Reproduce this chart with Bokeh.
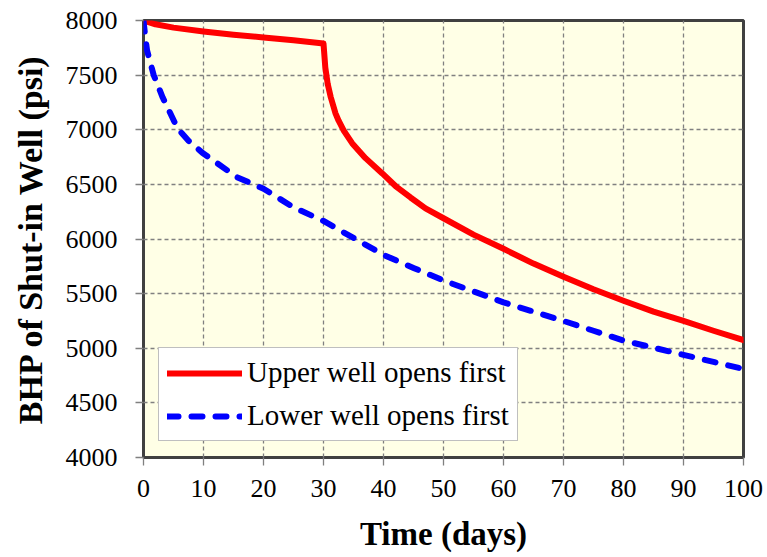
from bokeh.plotting import figure
from bokeh.models import ColumnDataSource, Legend, LegendItem, FixedTicker
from bokeh.embed import file_html
from bokeh.resources import INLINE

# Data
upper_t = [0, 2, 5, 10, 15, 20, 25, 30, 30.3, 30.7, 31.2, 32, 32.5, 33.4, 34.8, 37,
           39.8, 42, 44.5, 47, 50, 55, 60, 65, 70, 75, 80, 85, 90, 95, 100]
upper_p = [8000, 7965, 7935, 7900, 7870, 7845, 7820, 7790, 7570, 7420, 7300, 7150, 7085,
           6990, 6875, 6740, 6600, 6485, 6380, 6280, 6190, 6040, 5910, 5775, 5655, 5540,
           5435, 5335, 5250, 5160, 5075]

lower_t = [0, 0.3, 0.6, 1.7, 3.2, 5.7, 7.5, 9.8, 15.6, 20, 25, 30, 35, 40, 45, 50, 55,
           60, 65, 70, 75, 80, 85, 90, 95, 100]
lower_p = [8000, 7850, 7725, 7500, 7295, 7010, 6900, 6790, 6565, 6460, 6290, 6165, 6010,
           5855, 5735, 5620, 5520, 5420, 5335, 5250, 5160, 5070, 5005, 4940, 4875, 4810]

x_ticks = [0, 10, 20, 30, 40, 50, 60, 70, 80, 90, 100]
y_ticks = [4000, 4500, 5000, 5500, 6000, 6500, 7000, 7500, 8000]

series_names = ["Upper well opens first", "Lower well opens first"]

FONT = "Liberation Serif"

p = figure(width=767, height=557, x_range=(0, 100), y_range=(4000, 8000),
           output_backend="svg", toolbar_location=None,
           min_border_left=143, min_border_right=24, min_border_top=20,
           min_border_bottom=100)

p.background_fill_color = "#FFFFE6"
p.border_fill_color = "white"
p.outline_line_color = "#404040"
p.outline_line_width = 3

# grids
for g in (p.xgrid, p.ygrid):
    g.grid_line_color = "#808080"
    g.grid_line_dash = "4 3"
    g.grid_line_width = 1.3

p.xaxis.ticker = FixedTicker(ticks=x_ticks)
p.yaxis.ticker = FixedTicker(ticks=y_ticks)

for ax in (p.xaxis[0], p.yaxis[0]):
    ax.axis_line_color = None
    ax.major_tick_line_color = "#808080"
    ax.major_tick_line_width = 1.3
    ax.major_tick_out = 8
    ax.major_tick_in = 0
    ax.minor_tick_line_color = None
    ax.major_label_text_font = FONT
    ax.major_label_text_font_size = "26px"
    ax.major_label_text_color = "black"
    ax.axis_label_text_font = FONT
    ax.axis_label_text_font_style = "bold"
    ax.axis_label_text_color = "black"

p.xaxis.axis_label_text_font_size = "33px"
p.yaxis.axis_label_text_font_size = "34px"
p.xaxis.axis_label = "Time (days)"
p.yaxis.axis_label = "BHP of Shut-in Well (psi)"
p.xaxis.major_label_standoff = 14
p.yaxis.major_label_standoff = 18
p.xaxis.axis_label_standoff = 16
p.yaxis.axis_label_standoff = 14

src_u = ColumnDataSource(dict(t=upper_t, p=upper_p))
src_l = ColumnDataSource(dict(t=lower_t, p=lower_p))

r_u = p.line("t", "p", source=src_u, line_color="#FF0000", line_width=6,
             line_join="round", line_cap="round")
r_l = p.line("t", "p", source=src_l, line_color="#0000FF", line_width=6,
             line_dash="11 13", line_join="round", line_cap="round")

legend = Legend(items=[LegendItem(label=series_names[0], renderers=[r_u]),
                       LegendItem(label=series_names[1], renderers=[r_l])],
                location=(15, 16))
legend.label_text_font = FONT
legend.label_text_font_size = "29px"
legend.label_text_color = "black"
legend.glyph_width = 75
legend.glyph_height = 30
legend.label_height = 30
legend.label_standoff = 5
legend.spacing = 10
legend.padding = 8
legend.margin = 0
legend.border_line_color = "#7F7F7F"
legend.border_line_width = 1.5
legend.background_fill_color = "white"
legend.background_fill_alpha = 1.0
p.add_layout(legend, "center")

open("out.html", "w").write(file_html(p, INLINE))
